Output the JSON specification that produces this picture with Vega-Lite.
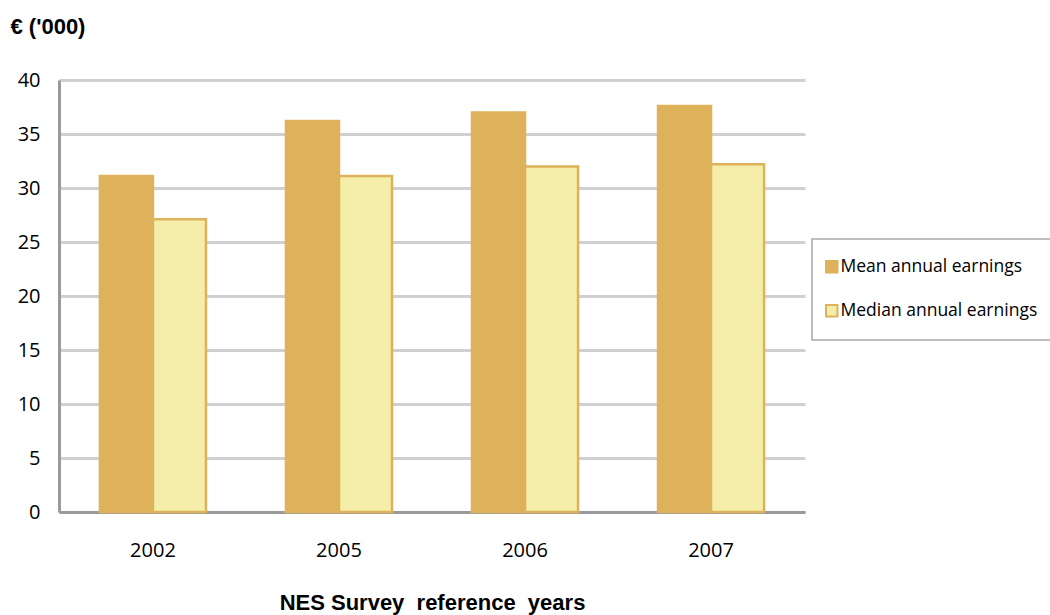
{
  "$schema": "https://vega.github.io/schema/vega-lite/v6.json",
  "width": 746,
  "height": 432,
  "autosize": "none",
  "padding": {"left": 59, "top": 80, "right": 245, "bottom": 103},
  "background": "white",
  "config": {"view": {"stroke": null}, "font": "Open Sans"},
  "data": {
    "values": [
      {"year": "2002", "series": "Mean annual earnings", "value": 31.1},
      {"year": "2002", "series": "Median annual earnings", "value": 27.1},
      {"year": "2005", "series": "Mean annual earnings", "value": 36.2},
      {"year": "2005", "series": "Median annual earnings", "value": 31.1},
      {"year": "2006", "series": "Mean annual earnings", "value": 37.0},
      {"year": "2006", "series": "Median annual earnings", "value": 32.0},
      {"year": "2007", "series": "Mean annual earnings", "value": 37.6},
      {"year": "2007", "series": "Median annual earnings", "value": 32.2}
    ]
  },
  "mark": {"type": "bar", "strokeWidth": 2.5},
  "encoding": {
    "x": {
      "field": "year",
      "type": "nominal",
      "scale": {"paddingInner": 0.43, "paddingOuter": 0.22},
      "axis": {
        "title": "NES Survey\u00a0 reference\u00a0 years",
        "titleFont": "Liberation Sans",
        "titleFontWeight": "bold",
        "titleFontSize": 22,
        "titleColor": "black",
        "titlePadding": 32,
        "labelAngle": 0,
        "labelFontSize": 20,
        "labelColor": "black",
        "labelPadding": 28,
        "ticks": false,
        "domainColor": "#9a9a9a",
        "domainWidth": 3
      }
    },
    "xOffset": {"field": "series", "type": "nominal", "scale": {"paddingInner": 0}},
    "y": {
      "field": "value",
      "type": "quantitative",
      "scale": {"domain": [0, 40]},
      "axis": {
        "values": [0, 5, 10, 15, 20, 25, 30, 35, 40],
        "title": "€ ('000)",
        "titleFont": "Liberation Sans",
        "titleFontWeight": "bold",
        "titleFontSize": 22,
        "titleColor": "black",
        "titleAngle": 0,
        "titleAlign": "left",
        "titleBaseline": "middle",
        "titleX": -49,
        "titleY": -54,
        "labelFontSize": 20,
        "labelColor": "black",
        "labelPadding": 19,
        "ticks": false,
        "domainColor": "#9a9a9a",
        "domainWidth": 3,
        "gridColor": "#d0d0d0",
        "gridWidth": 3
      }
    },
    "fill": {
      "field": "series",
      "type": "nominal",
      "scale": {"range": ["#DDB25A", "#F5EEAA"]},
      "legend": {
        "title": null,
        "orient": "none",
        "legendX": 753,
        "legendY": 159,
        "strokeColor": "#bdbdbd",
        "padding": 19,
        "labelFontSize": 17.5,
        "labelColor": "black",
        "labelLimit": 300,
        "symbolType": "square",
        "symbolSize": 130,
        "symbolStrokeWidth": 2,
        "symbolOffset": -8,
        "rowPadding": 24,
        "labelOffset": 0,
        "encode": {"legend": {"update": {"strokeWidth": {"value": 2}}}}
      }
    },
    "stroke": {
      "field": "series",
      "type": "nominal",
      "scale": {"range": ["#DDB25A", "#DDB25A"]}
    }
  }
}
